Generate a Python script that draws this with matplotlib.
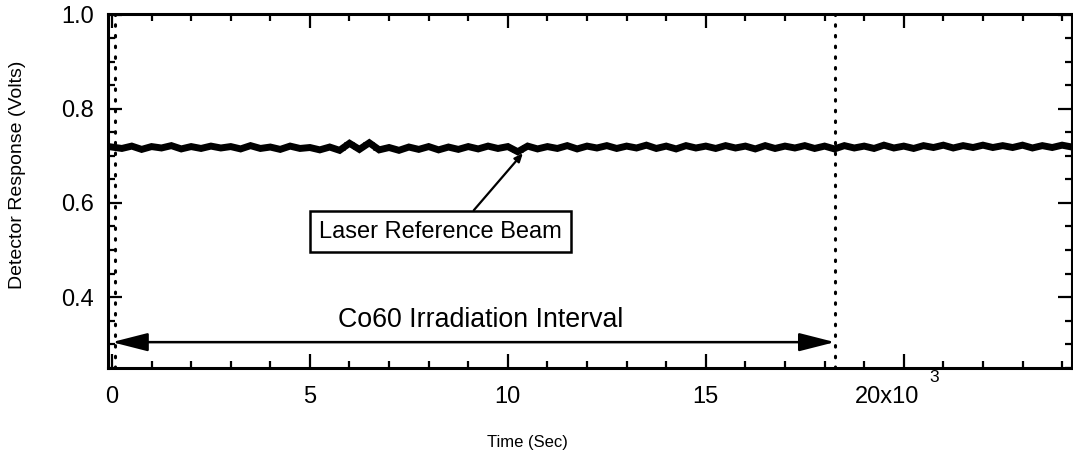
import matplotlib
matplotlib.use("Agg")
import matplotlib.pyplot as plt
import matplotlib.transforms as mtransforms
import numpy as np

plt.rcParams['font.family'] = ['Liberation Sans', 'DejaVu Sans']

# detector trace, one reading every 250 s
step = 250
volts = [
    0.719, 0.716, 0.721, 0.714, 0.720, 0.717, 0.722, 0.715, 0.720, 0.716,
    0.721, 0.717, 0.720, 0.715, 0.722, 0.716, 0.719, 0.714, 0.721, 0.716,
    0.718, 0.713, 0.719, 0.712, 0.727, 0.714, 0.728, 0.713, 0.718, 0.712,
    0.719, 0.714, 0.720, 0.713, 0.719, 0.714, 0.720, 0.715, 0.721, 0.716,
    0.720, 0.709, 0.721, 0.715, 0.720, 0.716, 0.722, 0.715, 0.721, 0.717,
    0.722, 0.716, 0.721, 0.717, 0.723, 0.716, 0.721, 0.715, 0.722, 0.717,
    0.721, 0.716, 0.722, 0.717, 0.721, 0.715, 0.722, 0.716, 0.721, 0.717,
    0.722, 0.716, 0.721, 0.715, 0.722, 0.717, 0.721, 0.716, 0.723, 0.717,
    0.721, 0.716, 0.722, 0.718, 0.723, 0.717, 0.722, 0.718, 0.723, 0.718,
    0.722, 0.718, 0.723, 0.717, 0.722, 0.718, 0.723, 0.719,
]
times = [i * step for i in range(len(volts))]

irr_start = 80
irr_end = 18260
xticks = [0, 5000, 10000, 15000, 20000]
xticklabels = ['0', '5', '10', '15', '20x10']
yticks = [0.4, 0.6, 0.8, 1.0]
yticklabels = ['0.4', '0.6', '0.8', '1.0']

fig = plt.figure(figsize=(10.73, 4.63), dpi=100)
ax = fig.add_axes([108 / 1073, 1 - 368 / 463, 964 / 1073, 354 / 463])

ax.plot(times, volts, color='black', lw=5, solid_joinstyle='miter')
ax.plot(times, volts, color='black', lw=1.2, drawstyle='steps-mid')

for xv in (irr_start, irr_end):
    ax.axvline(xv, color='black', lw=2.2, linestyle=(0, (0.5, 3)),
               dash_capstyle='round')

ax.annotate('', xy=(0, 0.304), xytext=(irr_end, 0.304),
            arrowprops=dict(arrowstyle='<|-|>,head_length=1.1,head_width=0.28',
                            mutation_scale=20, lw=1.8, color='black',
                            shrinkA=0, shrinkB=0))
ax.text(9300, 0.351, 'Co60 Irradiation Interval', fontsize=19.3,
        ha='center', va='center')

ax.annotate('Laser Reference Beam', xy=(10380, 0.706), xytext=(8300, 0.539),
            fontsize=17, ha='center', va='center',
            bbox=dict(boxstyle='square,pad=0.4', fc='white', ec='black', lw=1.8),
            arrowprops=dict(arrowstyle='-|>,head_length=0.35,head_width=0.15',
                            lw=1.6, color='black', shrinkA=0, shrinkB=0,
                            mutation_scale=14, relpos=(0.6, 1.0)))

ax.set_xlim(-100, 24250)
ax.set_ylim(0.249, 1.002)
ax.set_xticks(xticks)
ax.set_xticklabels(xticklabels)
ax.set_xticks(np.arange(0, 24001, 1000), minor=True)
ax.set_yticks(yticks)
ax.set_yticklabels(yticklabels)
ax.set_yticks(np.arange(0.25, 1.0, 0.05), minor=True)

ax.tick_params(which='both', direction='in', top=True, right=True,
               width=1.6, labelsize=17)
ax.tick_params(axis='x', which='major', length=10, pad=13)
ax.tick_params(axis='y', which='major', length=10, pad=10)
ax.tick_params(which='minor', length=5)
for sp in ax.spines.values():
    sp.set_linewidth(2.2)

lab = ax.get_xticklabels()[-1]
lab.set_transform(lab.get_transform() +
                  mtransforms.ScaledTranslation(-17 / 100, 0, fig.dpi_scale_trans))
fig.text(934 / 1073, 1 - 377 / 463, '3', fontsize=12.5, ha='center', va='center')

fig.text(527 / 1073, 1 - 443 / 463, 'Time (Sec)', fontsize=12,
         ha='center', va='center')
fig.text(18 / 1073, 1 - 175 / 463, 'Detector Response (Volts)', fontsize=14,
         ha='center', va='center', rotation=90)

fig.savefig('out.png', dpi=100)
